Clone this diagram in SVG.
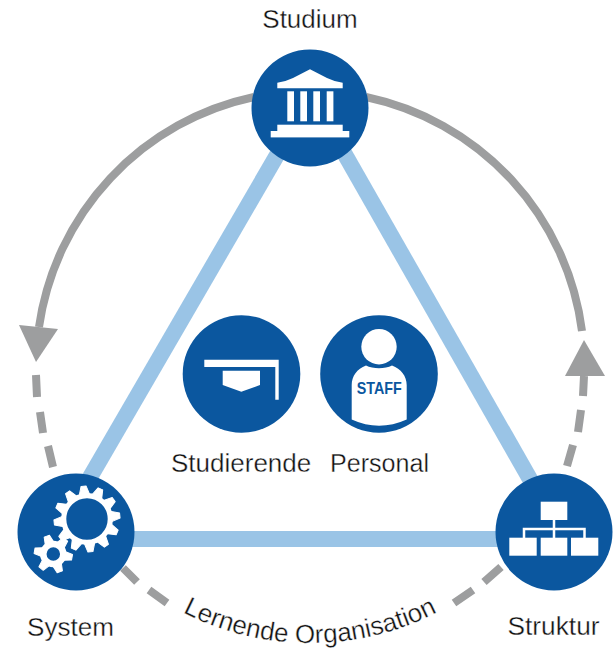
<svg xmlns="http://www.w3.org/2000/svg" width="613" height="652" viewBox="0 0 613 652">
<style>
.lbl{font-family:"Liberation Sans",Arial,sans-serif;font-size:26px;fill:#111;stroke:#fff;stroke-width:.35px;}
.arc{fill:none;stroke:#9d9e9f;stroke-width:8;}
.side{fill:none;stroke:#9ac4e6;stroke-width:16;}
.disc{fill:#0b579f;}
.ico{fill:#fff;}
.tooth{fill:#fff;stroke:#fff;stroke-width:1;stroke-linejoin:round;}
</style>
<defs>
<path id="curve" d="M 171 606 A 279 279 0 0 0 449 606"/>
<polygon id="bigtooth" class="tooth" points="-5,-25 -2.5,-33 2.5,-33 5,-25"/>
<polygon id="smalltooth" class="tooth" points="-4.5,-11 -2.8,-19 2.8,-19 4.5,-11"/>
</defs>
<g id="connectors">
<path class="side" d="M60 529 L285.8 140"/>
<path class="side" d="M559 530 L336.7 140"/>
<path class="side" d="M76 539 H554"/>
<path class="arc" d="M254 97 A275 275 0 0 0 39 327"/>
<polygon fill="#9d9e9f" points="19,325 58,329 36,362"/>
<path class="arc" d="M366 97 A275 275 0 0 1 582 331"/>
<polygon fill="#9d9e9f" points="584,340 565,376 605,376"/>
<path class="arc" d="M584 376 L583 396 M581 410 L578 432 M573 445 L567 466"/>
<path class="arc" d="M36 375 L37 397 M40 412 L43 433 M48 446 L53 467"/>
<path class="arc" d="M123 568 L137 582 M149 590 L167 603"/>
<path class="arc" d="M501 567 L484 582 M473 590 L454 603"/>
</g>
<g id="studium">
<circle class="disc" cx="310" cy="108" r="58.5"/>
<path class="ico" d="M310 69.3 L327 78 Q334 81.5 342.7 82.7 V88.3 H277.3 V82.7 Q286 81.5 293 78 Z"/>
<rect class="ico" x="287.3" y="91.3" width="6.7" height="30"/>
<rect class="ico" x="300.3" y="91.3" width="6.7" height="30"/>
<rect class="ico" x="313.3" y="91.3" width="6.7" height="30"/>
<rect class="ico" x="326.7" y="91.3" width="6.7" height="30"/>
<rect class="ico" x="277.3" y="124.7" width="65.4" height="6.5"/>
<rect class="ico" x="270.7" y="131" width="78.6" height="6.4"/>
<text class="lbl" x="310" y="27.5" text-anchor="middle">Studium</text>
</g>
<g id="studierende">
<circle class="disc" cx="241.5" cy="374" r="58.8"/>
<path class="ico" d="M204.3 359.7 H278.7 V399.7 H275.3 V367 H204.3 Z"/>
<polygon class="ico" points="222.7,370.7 260,370.7 260,385 241.3,391.7 222.7,385"/>
<text class="lbl" x="171" y="472">Studierende</text>
</g>
<g id="personal">
<circle class="disc" cx="379" cy="374" r="58.8"/>
<circle class="ico" cx="379" cy="346.7" r="17.7"/>
<path class="ico" d="M351.7 419.5 V385 C351.7 376 357 369 366 365.5 C373 369 385 369 392 365.5 C401 369 406.7 376 406.7 385 V419.5 Q379 432 351.7 419.5 Z"/>
<text x="356.7" y="394" textLength="45" lengthAdjust="spacingAndGlyphs" style="font-family:'Liberation Sans',Arial,sans-serif;font-size:17px;font-weight:700;fill:#0b579f">STAFF</text>
<text class="lbl" x="330" y="472" textLength="99" lengthAdjust="spacingAndGlyphs">Personal</text>
</g>
<g id="system">
<circle class="disc" cx="76" cy="532" r="58.5"/>
<circle cx="87" cy="519" r="23.3" fill="none" stroke="#fff" stroke-width="5.2"/>
<g transform="translate(87 519) rotate(-6)">
<use href="#bigtooth"/><use href="#bigtooth" transform="rotate(30)"/><use href="#bigtooth" transform="rotate(60)"/><use href="#bigtooth" transform="rotate(90)"/><use href="#bigtooth" transform="rotate(120)"/><use href="#bigtooth" transform="rotate(150)"/><use href="#bigtooth" transform="rotate(180)"/><use href="#bigtooth" transform="rotate(210)"/><use href="#bigtooth" transform="rotate(240)"/><use href="#bigtooth" transform="rotate(270)"/><use href="#bigtooth" transform="rotate(300)"/><use href="#bigtooth" transform="rotate(330)"/>
</g>
<circle cx="53.3" cy="554" r="10" fill="none" stroke="#fff" stroke-width="6.5"/>
<g transform="translate(53.3 554) rotate(-20)">
<use href="#smalltooth"/><use href="#smalltooth" transform="rotate(60)"/><use href="#smalltooth" transform="rotate(120)"/><use href="#smalltooth" transform="rotate(180)"/><use href="#smalltooth" transform="rotate(240)"/><use href="#smalltooth" transform="rotate(300)"/>
</g>
<text class="lbl" x="27" y="636" textLength="87" lengthAdjust="spacingAndGlyphs">System</text>
</g>
<g id="struktur">
<circle class="disc" cx="554" cy="532" r="58.5"/>
<rect class="ico" x="540.7" y="501.7" width="26.6" height="18.3"/>
<rect class="ico" x="509.3" y="537.7" width="27.4" height="18"/>
<rect class="ico" x="540.7" y="537.7" width="26.6" height="18"/>
<rect class="ico" x="571" y="537.7" width="27.3" height="18"/>
<path fill="none" stroke="#fff" stroke-width="2.5" d="M554 520 V538 M524 538 V529 H584.5 V538"/>
<text class="lbl" x="507.5" y="635" textLength="92" lengthAdjust="spacingAndGlyphs">Struktur</text>
</g>
<g id="lernende-organisation">
<text class="lbl" text-anchor="middle"><textPath href="#curve" startOffset="50%">Lernende Organisation</textPath></text>
</g>
</svg>
